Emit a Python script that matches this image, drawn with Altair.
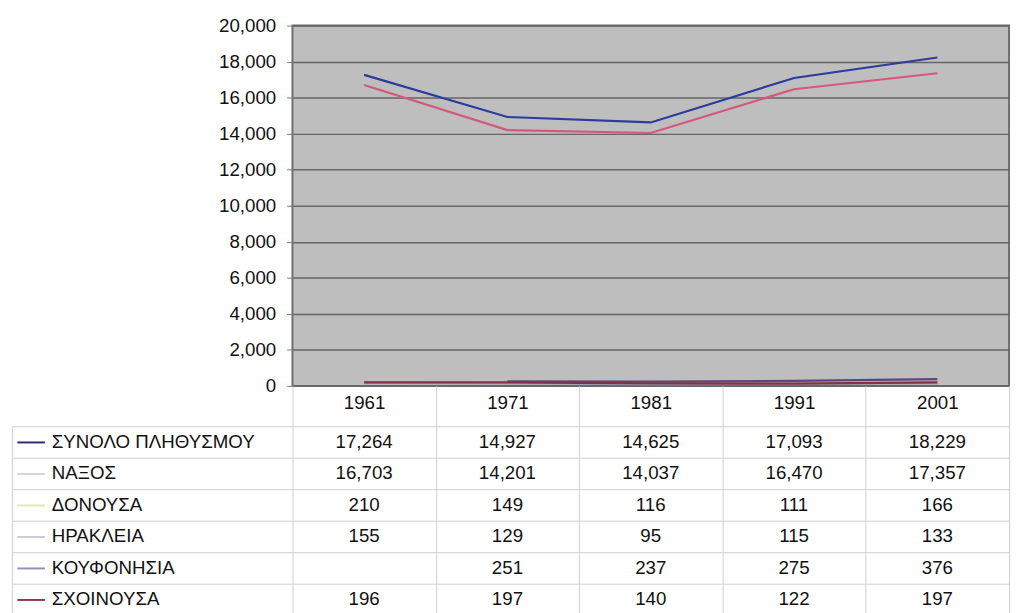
import altair as alt
import pandas as pd

years = ["1961", "1971", "1981", "1991", "2001"]
series = ["ΣΥΝΟΛΟ ΠΛΗΘΥΣΜΟΥ", "ΝΑΞΟΣ", "ΔΟΝΟΥΣΑ", "ΗΡΑΚΛΕΙΑ", "ΚΟΥΦΟΝΗΣΙΑ", "ΣΧΟΙΝΟΥΣΑ"]
synolo = [17264, 14927, 14625, 17093, 18229]
naxos = [16703, 14201, 14037, 16470, 17357]
donousa = [210, 149, 116, 111, 166]
irakleia = [155, 129, 95, 115, 133]
koufonisia = [None, 251, 237, 275, 376]
schoinousa = [196, 197, 140, 122, 197]
y_ticks = [0, 2000, 4000, 6000, 8000, 10000, 12000, 14000, 16000, 18000, 20000]

line_colors = ["#2b3c9c", "#d4587c", "#b9b46a", "#9aa4b6", "#5e457f", "#83304a"]
key_colors = ["#27336e", "#d9d3cd", "#e4eaa6", "#c9cbd9", "#8d90c0", "#8a3a4a"]

values_by_series = [synolo, naxos, donousa, irakleia, koufonisia, schoinousa]
rows = []
for s, vals in zip(series, values_by_series):
    for y, v in zip(years, vals):
        if v is not None:
            rows.append({"series": s, "year": y, "value": v})
df = pd.DataFrame(rows)

FONT = "Liberation Sans"
FS = 19
GRAYLINE = "#cfcfcf"
HEADER = 41

x_band = alt.Scale(type="band", paddingInner=0, paddingOuter=0)

# ---------------- top: line chart ----------------
lines = alt.Chart(df).mark_line(strokeWidth=2.2).encode(
    x=alt.X("year:O", sort=years, scale=x_band,
            axis=alt.Axis(title=None, orient="bottom", labelAngle=0, labelFontSize=FS,
                          labelColor="#111111", labelPadding=-(HEADER - 17), labelBaseline="middle",
                          domain=False, ticks=True, tickBand="extent", tickSize=HEADER,
                          tickColor=GRAYLINE, tickWidth=1, grid=False)),
    y=alt.Y("value:Q", scale=alt.Scale(domain=[0, 20000], nice=False),
            axis=alt.Axis(title=None, values=y_ticks, format=",d", labelFontSize=FS,
                          labelColor="#111111", labelPadding=11, tickSize=6,
                          tickColor="#7a7a7a", domain=False, grid=True,
                          gridColor="#666666", gridWidth=1.5)),
    color=alt.Color("series:N", scale=alt.Scale(domain=series, range=line_colors), legend=None),
).properties(width=728, height=366,
             view=alt.ViewBackground(fill="#bebebe", stroke="#6e6e6e", strokeWidth=2))

# ---------------- bottom: data table ----------------
y_rows = alt.Scale(type="band", paddingInner=0, paddingOuter=0)

cells = alt.Chart(df).mark_text(fontSize=FS, color="#111111", font=FONT).encode(
    x=alt.X("year:O", sort=years, scale=x_band,
            axis=alt.Axis(title=None, labels=False, ticks=False, domain=False, grid=True,
                          tickBand="extent", gridColor=GRAYLINE, gridWidth=1)),
    y=alt.Y("series:N", sort=series, scale=y_rows,
            axis=alt.Axis(title=None, orient="left", labels=False, domain=False, ticks=True,
                          tickBand="extent", tickSize=285, tickColor=GRAYLINE, tickWidth=1,
                          grid=True, gridColor=GRAYLINE, gridWidth=1)),
    text=alt.Text("value:Q", format=",d"),
)

key_cond = {
    "condition": [{"test": f"datum.value === '{s}'", "value": c} for s, c in zip(series, key_colors)],
    "value": "#999999",
}

names = alt.Chart(df).mark_point(opacity=0).encode(
    y=alt.Y("series:N", sort=series, scale=y_rows,
            axis=alt.Axis(title=None, orient="left", offset=252, domain=False, ticks=True,
                          tickSize=28, tickWidth=2, tickColor=key_cond,
                          labelAlign="left", labelPadding=-35, labelFontSize=FS,
                          labelColor="#111111", labelLimit=400, grid=False)),
)

border = alt.Chart(df).mark_point(opacity=0).encode(
    y=alt.Y("series:N", sort=series, scale=y_rows,
            axis=alt.Axis(title=None, orient="left", offset=285, domain=True,
                          domainColor=GRAYLINE, domainWidth=1, ticks=False, labels=False,
                          grid=False)),
)

table = alt.layer(cells, names, border).resolve_axis(y="independent").properties(
    width=728, height=192, view=alt.ViewBackground(fill="white", stroke=None))

chart = alt.vconcat(lines, table, spacing=HEADER, bounds="flush").properties(
    padding={"left": 3, "top": 3, "right": 0, "bottom": 0}
).configure(font=FONT).configure_axis(labelFont=FONT)

chart.save("out.html", embed_options={"renderer": "svg", "actions": False})
